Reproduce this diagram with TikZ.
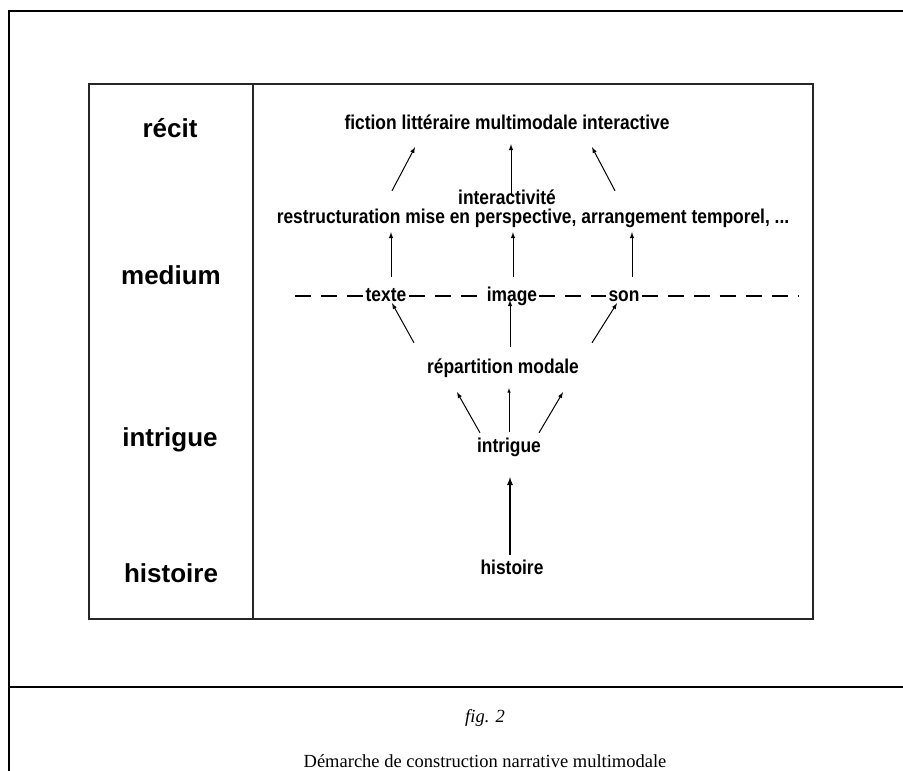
\documentclass[tikz,border=0pt]{standalone}
\usepackage{fontspec}
\setmainfont{Liberation Serif}
\newfontfamily\arialfont[FakeStretch=0.87]{Liberation Sans}
\newfontfamily\arialwide{Liberation Sans}
\usepackage{xcolor}
\usepackage{tikz}
\usetikzlibrary{arrows}
\tikzstyle{level} = [font=\arialwide\bfseries\fontsize{26}{28}\selectfont, inner sep=2pt]
\tikzstyle{stage} = [font=\arialfont\bfseries\fontsize{20}{22}\selectfont, text height=14pt, text depth=4pt, inner sep=2pt]
\tikzstyle{frame} = [line width=2.4pt, black]
\tikzstyle{box} = [line width=2pt, black!85]
\tikzstyle{mediumline} = [line width=1.6pt, dash pattern=on 16pt off 10pt]
\tikzstyle{arrow} = [->,>=latex, line width=1pt]
\tikzstyle{thinarrow} = [->,>=latex, line width=0.5pt]
\tikzstyle{bigarrow} = [->,>=latex, line width=1.7pt]
\tikzstyle{caption} = [font=\fontsize{18.5}{20}\selectfont]

\begin{document}
\begin{tikzpicture}[x=1pt, y=-1pt]
    \useasboundingbox (0,0) rectangle (903,771);
    % page frame
    \draw [frame] (903,11) -- (9,11) -- (9,771);
    \draw [frame] (9,687) -- (903,687);
    % table
    \draw [box] (89,84) rectangle (813,619);
    \draw [box] (253,84) -- (253,619);

    % levels
    \node (lrecit) [level] at (170,128) {récit};
    \node (lmedium) [level] at (171,275) {medium};
    \node (lintrigue) [level] at (170,440) {intrigue};
    \node (lhistoire) [level] at (171,573) {histoire};

    % stages
    \node (fiction) [stage] at (507,124) {fiction littéraire multimodale interactive};
    \node (restruct) [stage] at (533,218) {restructuration mise en perspective, arrangement temporel, ...};
    \node (interact) [stage] at (507,199) {interactivité};
    \node (texte) [stage] at (386,296) {texte};
    \node (image) [stage] at (512,296) {image};
    \node (son) [stage] at (624,296) {son};
    \node (repart) [stage] at (503,368) {répartition modale};
    \node (intrig) [stage] at (509,447) {intrigue};
    \node (hist) [stage] at (512,569) {histoire};

    \coordinate (dashL) at (295,296);
    \coordinate (dashR) at (798,296);
    \draw [mediumline] (dashL) -- (texte.west);
    \draw [mediumline] (texte.east) -- (image.west);
    \draw [mediumline] (image.east) -- (son.west);
    \draw [mediumline] (son.east) -- (dashR);

    \draw [bigarrow] ([shift={(-2pt,3pt)}]hist.north) -- ([shift={(1pt,-19pt)}]intrig.south);
    \draw [arrow] ([shift={(-29pt,3pt)}]intrig.north) -- ([shift={(-46pt,-13pt)}]repart.south);
    \draw [thinarrow] ([shift={(0pt,4pt)}]intrig.north) -- ([shift={(6pt,-9pt)}]repart.south);
    \draw [arrow] ([shift={(30pt,3pt)}]intrig.north) -- ([shift={(60pt,-13pt)}]repart.south);
    \draw [arrow] ([shift={(-89pt,14pt)}]repart.north) -- ([shift={(6pt,4pt)}]texte.south);
    \draw [arrow] ([shift={(7pt,10pt)}]repart.north) -- ([shift={(-2pt,7pt)}]image.south);
    \draw [arrow] ([shift={(89pt,14pt)}]repart.north) -- ([shift={(-7pt,4pt)}]son.south);
    \draw [arrow] ([shift={(5pt,8pt)}]texte.north) -- ([shift={(-142pt,-3pt)}]restruct.south);
    \draw [arrow] ([shift={(1pt,8pt)}]image.north) -- ([shift={(-20pt,-3pt)}]restruct.south);
    \draw [arrow] ([shift={(8pt,8pt)}]son.north) -- ([shift={(99pt,-3pt)}]restruct.south);
    \draw [arrow] ([shift={(-141pt,16pt)}]restruct.north) -- ([shift={(-92pt,-12pt)}]fiction.south);
    \draw [arrow] ([shift={(4pt,-8pt)}]interact.north) -- ([shift={(4pt,-9pt)}]fiction.south);
    \draw [arrow] ([shift={(82pt,16pt)}]restruct.north) -- ([shift={(85pt,-12pt)}]fiction.south);

    % caption
    \node (fignum) [caption] at (485,718) {\itshape fig. 2};
    \node (figtitle) [caption] at (485,761) {Démarche de construction narrative multimodale};
\end{tikzpicture}
\end{document}
